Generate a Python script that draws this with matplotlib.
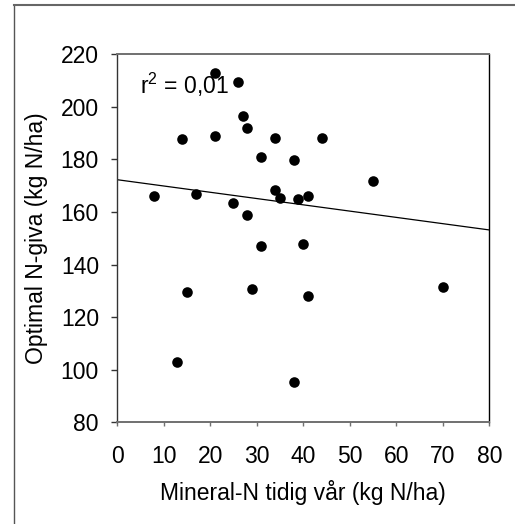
import matplotlib
matplotlib.use("Agg")
import matplotlib.pyplot as plt
from matplotlib.lines import Line2D
import numpy as np

plt.rcParams['font.family'] = ['Liberation Sans', 'DejaVu Sans']
plt.rcParams['mathtext.default'] = 'regular'

# Data
mineral_n = [21, 26, 27, 28, 14, 21, 34, 44, 31, 38, 55, 8, 17, 34, 35, 39, 41, 25,
             28, 31, 40, 15, 29, 41, 70, 13, 38]
optimal_n = [213.0, 209.6, 196.5, 192.0, 187.7, 188.8, 188.2, 188.1, 180.8, 179.7,
             171.8, 166.1, 166.8, 168.2, 165.3, 164.8, 166.2, 163.5, 158.8, 147.0,
             147.9, 129.5, 130.6, 127.9, 131.4, 102.8, 95.3]
fit_intercept = 172.3
fit_slope = -0.239
x_ticks = [0, 10, 20, 30, 40, 50, 60, 70, 80]
y_ticks = [80, 100, 120, 140, 160, 180, 200, 220]

W, H = 515, 524
fig = plt.figure(figsize=(W / 100, H / 100), dpi=100)

# outer frame (left and top lines only visible)
fig.add_artist(Line2D([13.5 / W, 13.5 / W], [0, 1 - 4.5 / H], transform=fig.transFigure,
                      color='#555555', lw=1.0))
fig.add_artist(Line2D([13.5 / W, 1], [1 - 4.5 / H, 1 - 4.5 / H], transform=fig.transFigure,
                      color='#666666', lw=1.5))

ax = fig.add_axes([117 / W, 1 - 422.3 / H, (489.3 - 117) / W, (422.3 - 54.3) / H])

ax.scatter(mineral_n, optimal_n, s=58, color='black', zorder=3, linewidths=0)
xf = np.array([0, 80])
ax.plot(xf, fit_intercept + fit_slope * xf, color='black', lw=0.9)

ax.set_xlim(0, 80)
ax.set_ylim(80, 220)
ax.set_xticks(x_ticks)
ax.set_yticks(y_ticks)

ax.spines['top'].set_color('#707070')
ax.spines['bottom'].set_color('#707070')
ax.spines['left'].set_color('#333333')
ax.spines['right'].set_color('black')
for s in ax.spines.values():
    s.set_linewidth(1.0)
ax.spines['top'].set_linewidth(1.4)
ax.spines['bottom'].set_linewidth(1.4)

fs = 16.5
ax.tick_params(axis='x', direction='out', length=3, width=1, color='#707070',
               pad=13, labelsize=fs)
ax.tick_params(axis='y', direction='out', length=4, width=1, color='#333333',
               pad=9, labelsize=fs)

ax.set_xlabel('Mineral-N tidig vår (kg N/ha)', fontsize=fs, labelpad=9)
ax.set_ylabel('Optimal N-giva (kg N/ha)', fontsize=fs, labelpad=9)

ax.text(4.9, 204.9, r'r$^{2}$ = 0,01', fontsize=fs, va='baseline', ha='left')

fig.savefig('out.png', dpi=100)
